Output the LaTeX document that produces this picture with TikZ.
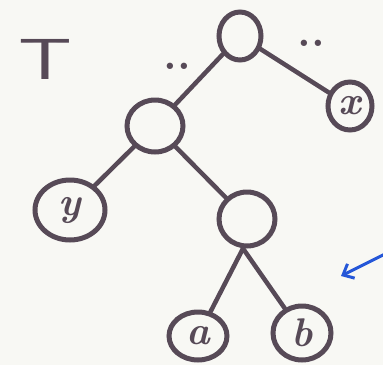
\documentclass[tikz,border=0pt]{standalone}
\usetikzlibrary{shapes.geometric,arrows.meta}
\definecolor{marker}{HTML}{574A57}
\definecolor{paper}{HTML}{F8F8F4}
\definecolor{pen}{HTML}{2557D8}
\begin{document}
\begin{tikzpicture}[x=1pt,y=-1pt,
  treenode/.style={draw=marker,line width=5pt,ellipse,inner sep=0pt},
  branch/.style={draw=marker,line width=4.5pt,line cap=round},
  leaflabel/.style={text=marker,font=\fontsize{40}{40}\selectfont\bfseries\itshape},
  dots/.style={text=marker,inner sep=0pt,anchor=base,font=\fontsize{44}{44}\selectfont\bfseries}]
  \fill[paper] (0,0) rectangle (383,365);
  \useasboundingbox (0,0) rectangle (383,365);
  % tree label
  \node[text=marker,font=\fontsize{58}{58}\selectfont\sffamily,xscale=1.45] (tlabel) at (45,59) {T};
  % internal nodes
  \node[treenode,minimum width=42pt,minimum height=48pt] (root) at (240,36) {};
  \node[treenode,minimum width=56pt,minimum height=52pt] (left) at (155,126) {};
  \node[treenode,minimum width=56pt,minimum height=54pt] (mid) at (247,219) {};
  % leaves
  \node[treenode,minimum width=44pt,minimum height=48pt,leaflabel] (lx) at (350,106) {x};
  \node[treenode,minimum width=70pt,minimum height=60pt,leaflabel] (ly) at (70,210) {y};
  \node[treenode,minimum width=58pt,minimum height=48pt,leaflabel] (la) at (198,336) {a};
  \node[treenode,minimum width=58pt,minimum height=54pt,leaflabel] (lb) at (302,333) {b};
  % ellipsis marks beside the root
  \node[dots] (dl) at (177,69) {..};
  \node[dots] (dr) at (311,46) {..};
  % branches
  \draw[branch] (root) -- (left);
  \draw[branch] (root) -- (lx);
  \draw[branch] (left) -- (ly);
  \draw[branch] (left) -- (mid);
  \coordinate (fork) at ([xshift=-4pt]mid.south);
  \draw[branch] (fork) -- (la);
  \draw[branch] (fork) -- (lb);
  % blue pointer
  \coordinate (ptail) at (385,254);
  \coordinate (ptip) at (341,276);
  \draw[draw=pen,line width=3pt,-{Straight Barb[length=9pt,width=16pt]}] (ptail) -- (ptip);
\end{tikzpicture}
\end{document}
